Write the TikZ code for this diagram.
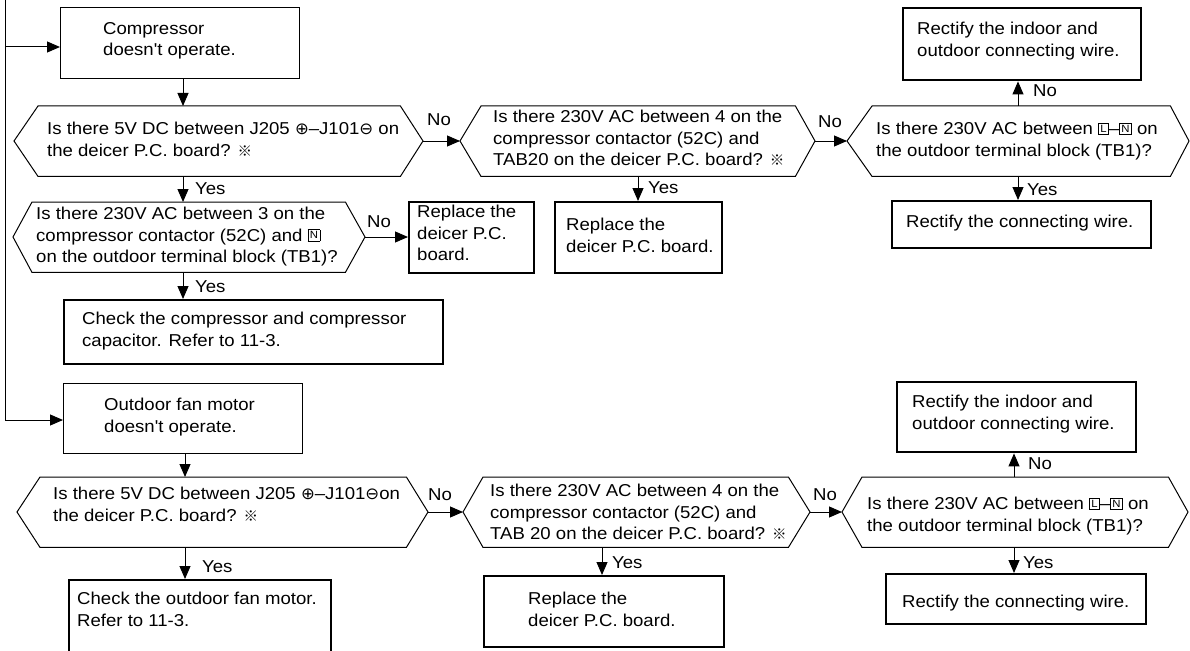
\documentclass[tikz,border=0pt]{standalone}
\usepackage{fontspec}
\setmainfont{Liberation Sans}[FakeStretch=1.08,Ligatures=TeXOff]
\newfontfamily\symf{DejaVu Sans}
\newfontfamily\cjkf{Noto Sans CJK JP}
\usetikzlibrary{arrows.meta}
\newcommand\cplus{{\symf\fontsize{16.5}{16.5}\selectfont ⊕}}
\newcommand\cminus{{\symf\fontsize{16.5}{16.5}\selectfont ⊖}}
\newcommand\refm{{\cjkf\fontsize{14.5}{14.5}\selectfont ※}}
\newcommand\sqbox[1]{{\setlength\fboxsep{1.7pt}\setlength\fboxrule{0.5pt}\raisebox{2.2pt}{\fbox{\fontsize{10.5}{10.5}\selectfont #1}}}}
\newcommand\bodyfont{\fontsize{17.2}{21.5}\selectfont}
\newcommand\hexnode[6]{%
  \node[hexbody, minimum width={#4-#3}, minimum height=70] (#1) at (#3,#6) {};
  \coordinate (#1W) at (#2,#6+35);
  \coordinate (#1E) at (#5,#6+35);
  \draw[hexline] (#1W) -- (#1.north west) -- (#1.north east) -- (#1E) -- (#1.south east) -- (#1.south west) -- cycle;}
\begin{document}
\begin{tikzpicture}[x=1pt,y=-1pt,
  arr/.style={line width=1pt, -{Triangle[length=13pt,width=11pt]}},
  thinbox/.style={draw, line width=1pt, inner sep=0, anchor=north west},
  thickbox/.style={draw, line width=2.4pt, inner sep=0, anchor=north west},
  hexbody/.style={inner sep=0, anchor=north west},
  hexline/.style={line width=1pt, line join=miter},
  txt/.style={inner sep=0, anchor=north west, yshift=15.05pt, align=left, font=\bodyfont, execute at begin node=\strut},
  lab/.style={inner sep=0, anchor=base west, font=\bodyfont}]
\useasboundingbox (0,0) rectangle (1190,650);
\clip (0,0) rectangle (1190,650);

% ---------- upper chart ----------
\coordinate (ltop) at (5,0);
\coordinate (j1) at (5,47);
\coordinate (j2) at (5,420);
\node[thinbox, minimum width=239, minimum height=71] (a1) at (60,7) {};
\node[txt] (a1t) at (103,37) {Compressor\\doesn't operate.};
\draw[arr] (j1) -- (j1 -| a1.west);

\coordinate (x1) at (183,0);
\hexnode{h1}{14}{38}{400}{423}{106}
\draw[arr] (x1 |- a1.south) -- (x1 |- h1.north);
\node[txt] (h1t) at (47,137) {Is there 5V DC between J205 \cplus–J101\cminus\ on\\the deicer P.C. board? \refm};
\node[lab] (h1no) at (427,125) {No};

\hexnode{h2}{460}{481}{795}{815}{106}
\draw[arr] (h1E) -- (h2W);
\node[txt] (h2t) at (493,125) {Is there 230V AC between 4 on the\\compressor contactor (52C) and\\TAB20 on the deicer P.C. board? \refm};
\node[lab] (h2no) at (818,128) {No};

\hexnode{h3}{847}{872}{1170}{1189}{106}
\draw[arr] (h2E) -- (h3W);
\node[txt] (h3t) at (876,137) {Is there 230V AC between \sqbox{L}–\sqbox{N} on\\the outdoor terminal block (TB1)?};

\node[thickbox, minimum width=238, minimum height=72] (b1) at (902,7) {};
\node[txt] (b1t) at (917,37) {Rectify the indoor and\\outdoor connecting wire.};
\coordinate (x3) at (1018,0);
\draw[arr] (x3 |- h3.north) -- (x3 |- b1.south);
\node[lab] (h3no) at (1033,97) {No};

\node[thickbox, minimum width=259, minimum height=47] (b2) at (891,200) {};
\node[txt] (b2t) at (906,227) {Rectify the connecting wire.};
\draw[arr] (x3 |- h3.south) -- (x3 |- b2.north);
\node[lab] (h3yes) at (1027,195) {Yes};

\hexnode{h4}{13}{32}{345}{365}{202}
\draw[arr] (x1 |- h1.south) -- (x1 |- h4.north);
\node[lab] (h1yes) at (195,194) {Yes};
\node[txt] (h4t) at (36,222) {Is there 230V AC between 3 on the\\compressor contactor (52C) and \sqbox{N}\\on the outdoor terminal block (TB1)?};

\node[thickbox, minimum width=125, minimum height=71] (a2) at (408,201) {};
\node[txt] (a2t) at (417,220) {Replace the\\deicer P.C.\\board.};
\draw[arr] (h4E) -- (h4E -| a2.west);
\node[lab] (h4no) at (367,227) {No};

\coordinate (x2) at (638,0);
\node[thickbox, minimum width=167, minimum height=71] (a3) at (554,201) {};
\node[txt] (a3t) at (566,233) {Replace the\\deicer P.C. board.};
\draw[arr] (x2 |- h2.south) -- (x2 |- a3.north);
\node[lab] (h2yes) at (648,193) {Yes};

\node[thickbox, minimum width=379, minimum height=64] (a4) at (63,299) {};
\node[txt] (a4t) at (82,327) {Check the compressor and compressor\\capacitor. Refer to 11-3.};
\draw[arr] (x1 |- h4.south) -- (x1 |- a4.north);
\node[lab] (h4yes) at (195,292) {Yes};

% ---------- lower chart ----------
\node[thinbox, minimum width=239, minimum height=70] (c1) at (63,383) {};
\node[txt] (c1t) at (104,413) {Outdoor fan motor\\doesn't operate.};
\draw[arr] (ltop) -- (j2) -- (j2 -| c1.west);

\coordinate (x4) at (185,0);
\hexnode{h5}{17}{40}{406}{428}{477}
\draw[arr] (x4 |- c1.south) -- (x4 |- h5.north);
\node[txt] (h5t) at (53,502) {Is there 5V DC between J205 \cplus–J101\cminus on\\the deicer P.C. board? \refm};
\node[lab] (h5no) at (428,500) {No};

\hexnode{h6}{463}{483}{788}{810}{477}
\draw[arr] (h5E) -- (h6W);
\node[txt] (h6t) at (490,499) {Is there 230V AC between 4 on the\\compressor contactor (52C) and\\TAB 20 on the deicer P.C. board? \refm};
\node[lab] (h6no) at (813,500) {No};

\hexnode{h7}{842}{862}{1168}{1188}{477}
\draw[arr] (h6E) -- (h7W);
\node[txt] (h7t) at (867,512) {Is there 230V AC between \sqbox{L}–\sqbox{N} on\\the outdoor terminal block (TB1)?};

\node[thickbox, minimum width=239, minimum height=70] (b3) at (896,381) {};
\node[txt] (b3t) at (912,410) {Rectify the indoor and\\outdoor connecting wire.};
\coordinate (x7) at (1014,0);
\draw[arr] (x7 |- h7.north) -- (x7 |- b3.south);
\node[lab] (h7no) at (1028,469) {No};

\node[thickbox, minimum width=260, minimum height=50] (b4) at (885,573) {};
\node[txt] (b4t) at (902,607) {Rectify the connecting wire.};
\draw[arr] (x7 |- h7.south) -- (x7 |- b4.north);
\node[lab] (h7yes) at (1023,568) {Yes};

\coordinate (x6) at (602,0);
\node[thickbox, minimum width=240, minimum height=71] (a6) at (483,575) {};
\node[txt] (a6t) at (528,607) {Replace the\\deicer P.C. board.};
\draw[arr] (x6 |- h6.south) -- (x6 |- a6.north);
\node[lab] (h6yes) at (612,568) {Yes};

\node[thickbox, minimum width=262, minimum height=90] (c2) at (68,579) {};
\node[txt] (c2t) at (77,607) {Check the outdoor fan motor.\\Refer to 11-3.};
\draw[arr] (x4 |- h5.south) -- (x4 |- c2.north);
\node[lab] (h5yes) at (202,572) {Yes};
\end{tikzpicture}
\end{document}
